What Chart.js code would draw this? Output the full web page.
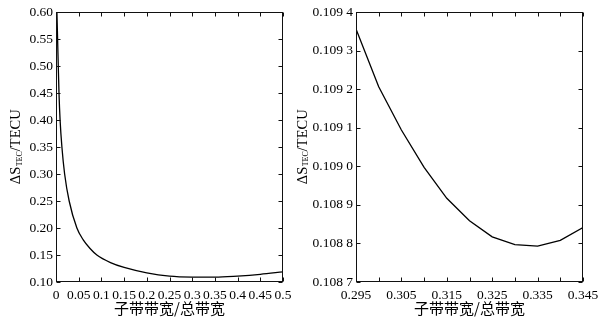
<!DOCTYPE html>
<html>
<head>
<meta charset="utf-8">
<script src="https://cdn.jsdelivr.net/npm/chart.js@4/dist/chart.umd.min.js"></script>
<style>
  html, body { margin: 0; padding: 0; background: #fff; }
  #wrap { position: relative; width: 608px; height: 324px; overflow: hidden; background: #fff; }
  canvas { position: absolute; top: 0; }
  #c1 { left: 0; }
  #c2 { left: 290px; }
</style>
</head>
<body>
<div id="wrap">
  <canvas id="c1" width="300" height="324"></canvas>
  <canvas id="c2" width="318" height="324"></canvas>
</div>
<script>
// ---- Data ----
const leftX = [0.002, 0.005, 0.0066, 0.009, 0.013, 0.019, 0.029, 0.046, 0.06, 0.075, 0.09, 0.12, 0.15, 0.2, 0.25, 0.3, 0.35, 0.4, 0.45, 0.5];
const leftY = [0.600, 0.500, 0.450, 0.400, 0.350, 0.300, 0.250, 0.200, 0.178, 0.162, 0.150, 0.136, 0.127, 0.117, 0.111, 0.1092, 0.1090, 0.1110, 0.1142, 0.1188];

const rightX = [0.295, 0.300, 0.305, 0.310, 0.315, 0.320, 0.325, 0.330, 0.335, 0.340, 0.345];
const rightY = [0.109356, 0.109206, 0.109094, 0.108997, 0.108917, 0.108859, 0.108817, 0.108797, 0.108793, 0.108808, 0.108841];

const leftXTicks = [0, 0.05, 0.1, 0.15, 0.2, 0.25, 0.3, 0.35, 0.4, 0.45, 0.5];
const leftXLabels = ['0', '0.05', '0.1', '0.15', '0.2', '0.25', '0.3', '0.35', '0.4', '0.45', '0.5'];
const leftYTicks = [0.10, 0.15, 0.20, 0.25, 0.30, 0.35, 0.40, 0.45, 0.50, 0.55, 0.60];
const leftYLabels = ['0.10', '0.15', '0.20', '0.25', '0.30', '0.35', '0.40', '0.45', '0.50', '0.55', '0.60'];

const rightXTicks = [0.295, 0.300, 0.305, 0.310, 0.315, 0.320, 0.325, 0.330, 0.335, 0.340, 0.345];
const rightXLabels = ['0.295', '', '0.305', '', '0.315', '', '0.325', '', '0.335', '', '0.345'];
const rightYTicks = [0.1087, 0.1088, 0.1089, 0.1090, 0.1091, 0.1092, 0.1093, 0.1094];
const rightYLabels = ['0.108 7', '0.108 8', '0.108 9', '0.109 0', '0.109 1', '0.109 2', '0.109 3', '0.109 4'];

const xTitle = '子带带宽/总带宽';
const yTitleMain1 = 'ΔS';
const yTitleSub = 'TEC';
const yTitleMain2 = '/TECU';

// ---- Styling helpers ----
const SERIF = '"Liberation Serif", "Times New Roman", serif';
const CJK = '"Noto Sans CJK SC", "Noto Sans CJK JP", sans-serif';

function framePlugin(yTitleX) {
  return {
    id: 'frameTicks',
    afterDraw(chart) {
      const ctx = chart.ctx;
      const a = chart.chartArea;
      const L = Math.round(a.left) + 0.5, R = Math.round(a.right) - 0.5;
      const T = Math.round(a.top) + 0.5, B = Math.round(a.bottom) - 0.5;
      ctx.save();
      ctx.strokeStyle = '#111';
      ctx.lineWidth = 1;
      ctx.strokeRect(L, T, R - L, B - T);
      const tl = 4;
      ctx.beginPath();
      const xs = chart.scales.x, ys = chart.scales.y;
      xs.ticks.forEach((t) => {
        const px = Math.round(xs.getPixelForValue(t.value)) + 0.5;
        ctx.moveTo(px, B); ctx.lineTo(px, B - tl);
        ctx.moveTo(px, T); ctx.lineTo(px, T + tl);
      });
      ys.ticks.forEach((t) => {
        const py = Math.round(ys.getPixelForValue(t.value)) + 0.5;
        ctx.moveTo(L, py); ctx.lineTo(L + tl, py);
        ctx.moveTo(R, py); ctx.lineTo(R - tl, py);
      });
      ctx.stroke();

      // x title
      ctx.fillStyle = '#000';
      ctx.font = '15px ' + CJK;
      ctx.textAlign = 'center';
      ctx.textBaseline = 'middle';
      ctx.fillText(xTitle, (a.left + a.right) / 2, 308);

      // y title (rotated, with subscript)
      const mainFont = '14.5px ' + SERIF;
      const subFont = '8px ' + SERIF;
      ctx.translate(yTitleX, (a.top + a.bottom) / 2);
      ctx.rotate(-Math.PI / 2);
      ctx.textAlign = 'left';
      ctx.textBaseline = 'alphabetic';
      ctx.font = mainFont;
      const w1 = ctx.measureText(yTitleMain1).width;
      const w3 = ctx.measureText(yTitleMain2).width;
      ctx.font = subFont;
      const w2 = ctx.measureText(yTitleSub).width;
      let x = -(w1 + w2 + w3) / 2;
      ctx.font = mainFont; ctx.fillText(yTitleMain1, x, 0); x += w1;
      ctx.font = subFont; ctx.fillText(yTitleSub, x + 0.5, 1.5); x += w2 + 0.5;
      ctx.font = mainFont; ctx.fillText(yTitleMain2, x, 0);
      ctx.restore();
    }
  };
}

function makeChart(canvasId, xs, ys, cfg) {
  const data = xs.map((v, i) => ({ x: v, y: ys[i] }));
  return new Chart(document.getElementById(canvasId), {
    type: 'line',
    data: {
      datasets: [{
        data: data,
        borderColor: '#000',
        borderWidth: 1.3,
        pointRadius: 0,
        fill: false,
        tension: cfg.tension,
        cubicInterpolationMode: cfg.cubic ? 'monotone' : 'default'
      }]
    },
    options: {
      responsive: false,
      animation: false,
      events: [],
      layout: { padding: { left: cfg.padLeft, right: cfg.padRight, top: 12, bottom: 0 } },
      plugins: { legend: { display: false }, tooltip: { enabled: false }, title: { display: false } },
      scales: {
        x: {
          type: 'linear',
          min: cfg.xMin, max: cfg.xMax,
          grid: { display: false, drawTicks: false },
          border: { display: false },
          afterBuildTicks: (scale) => { scale.ticks = cfg.xTicks.map(v => ({ value: v })); },
          afterFit: (scale) => { scale.height = 42; },
          ticks: {
            autoSkip: false, maxRotation: 0, minRotation: 0, padding: 5,
            color: '#000',
            font: { family: SERIF, size: 13.5 },
            callback: (v, i) => cfg.xLabels[i]
          }
        },
        y: {
          type: 'linear',
          min: cfg.yMin, max: cfg.yMax,
          grid: { display: false, drawTicks: false },
          border: { display: false },
          afterBuildTicks: (scale) => { scale.ticks = cfg.yTicks.map(v => ({ value: v })); },
          afterFit: (scale) => { scale.width = 56; },
          ticks: {
            autoSkip: false, padding: 3,
            color: '#000',
            font: { family: SERIF, size: 13.5 },
            callback: (v, i) => cfg.yLabels[i]
          }
        }
      }
    },
    plugins: [framePlugin(cfg.yTitleX)]
  });
}

makeChart('c1', leftX, leftY, {
  tension: 0.4, cubic: true,
  padLeft: 0, padRight: 17,
  xMin: 0, xMax: 0.5, yMin: 0.10, yMax: 0.60,
  xTicks: leftXTicks, xLabels: leftXLabels,
  yTicks: leftYTicks, yLabels: leftYLabels,
  yTitleX: 20
});

makeChart('c2', rightX, rightY, {
  tension: 0, cubic: false,
  padLeft: 10, padRight: 25,
  xMin: 0.295, xMax: 0.345, yMin: 0.1087, yMax: 0.1094,
  xTicks: rightXTicks, xLabels: rightXLabels,
  yTicks: rightYTicks, yLabels: rightYLabels,
  yTitleX: 16.5
});
</script>
</body>
</html>
